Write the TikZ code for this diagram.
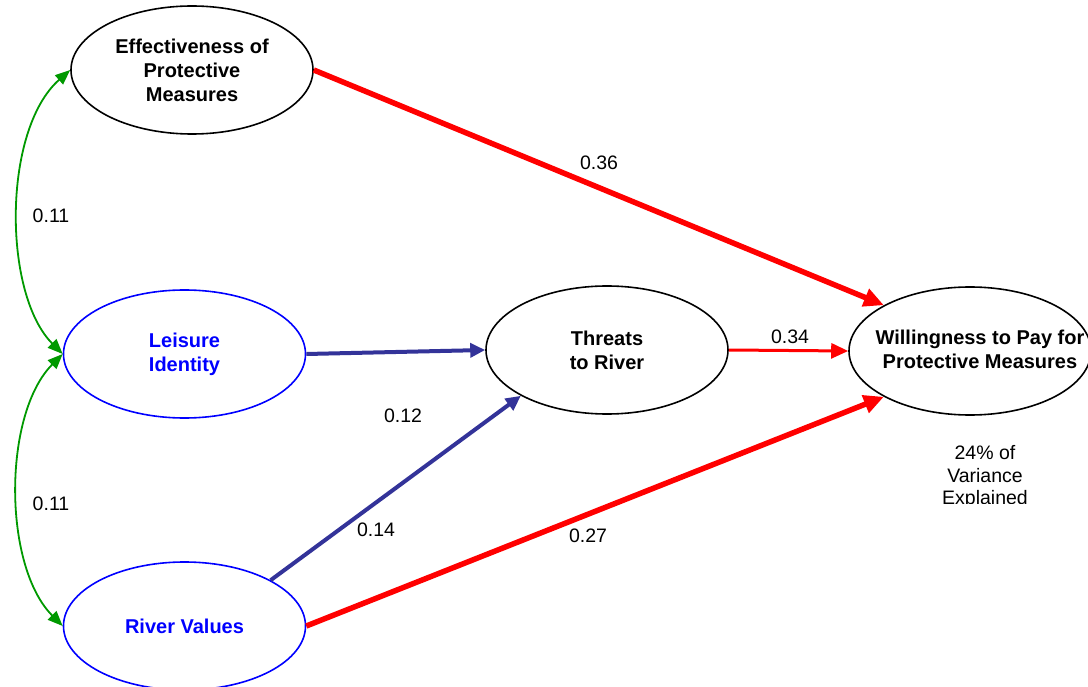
\documentclass[tikz,border=0pt]{standalone}
\usepackage{fontspec}
\setmainfont{Liberation Sans}
\usetikzlibrary{arrows.meta,shapes.geometric}
\definecolor{pathred}{RGB}{255,0,0}
\definecolor{pathblue}{RGB}{51,51,153}
\definecolor{corgreen}{RGB}{0,153,0}
\definecolor{latblue}{RGB}{0,0,255}
\tikzset{
  construct/.style={ellipse, draw=black, line width=1.6pt, minimum width=242pt, minimum height=128pt, inner sep=0pt, align=center, font=\fontsize{20}{24}\selectfont\bfseries},
  latent/.style={construct, draw=latblue, text=latblue},
  coef/.style={font=\fontsize{19.5}{23}\selectfont, inner sep=0pt},
  redpath/.style={draw=pathred, line width=5.5pt, -{Triangle[length=20pt,width=18pt]}},
  redthin/.style={draw=pathred, line width=3pt, -{Triangle[length=17pt,width=15pt]}},
  bluepath/.style={draw=pathblue, line width=4pt, -{Triangle[length=15pt,width=14pt]}},
  corr/.style={draw=corgreen, line width=1.8pt, {Triangle[length=15pt,width=12pt]}-{Triangle[length=15pt,width=12pt]}}
}
\begin{document}
\begin{tikzpicture}[x=1pt,y=-1pt]
\useasboundingbox (0,0) rectangle (1088,687);
\fill[white] (0,0) rectangle (1088,687);
% constructs
\node[construct] (eff) at (192,70) {Effectiveness of\\Protective\\Measures};
\node[latent] (lei) at (184.5,354) {Leisure\\Identity};
\node[latent] (rv) at (184.5,626) {River Values};
\node[construct] (thr) at (607,350) {Threats\\to River};
\node[construct] (will) at (970,351) {};
\node[font=\fontsize{20}{24}\selectfont\bfseries, align=center, inner sep=0pt] (willtext) at (980,349) {Willingness to Pay for\\Protective Measures};
% correlations
\draw[corr] (eff.west) .. controls +(-68,60) and +(-60,-60) .. (lei.west);
\draw[corr] (lei.west) .. controls +(-60,60) and +(-60,-60) .. (rv.west);
% paths
\draw[redpath] (eff.east) -- (will.152);
\draw[redpath] (rv.east) -- (will.208);
\draw[redthin] (thr.east) -- (will.west);
\draw[bluepath] (lei.east) -- (thr.west);
\draw[bluepath] (rv.28) -- (thr.208);
% coefficients
\node[coef] (c1) at (51,216) {0.11};
\node[coef] (c2) at (51,504) {0.11};
\node[coef] (c3) at (599,163) {0.36};
\node[coef] (c4) at (790,337) {0.34};
\node[coef] (c5) at (403,416) {0.12};
\node[coef] (c6) at (376,530) {0.14};
\node[coef] (c7) at (588,536) {0.27};
\begin{scope}
\clip (880,430) rectangle (1088,503);
\node[coef, align=center, font=\fontsize{19.5}{22.5}\selectfont] (var) at (985,477) {24\% of\\Variance\\Explained};
\end{scope}
\end{tikzpicture}
\end{document}
